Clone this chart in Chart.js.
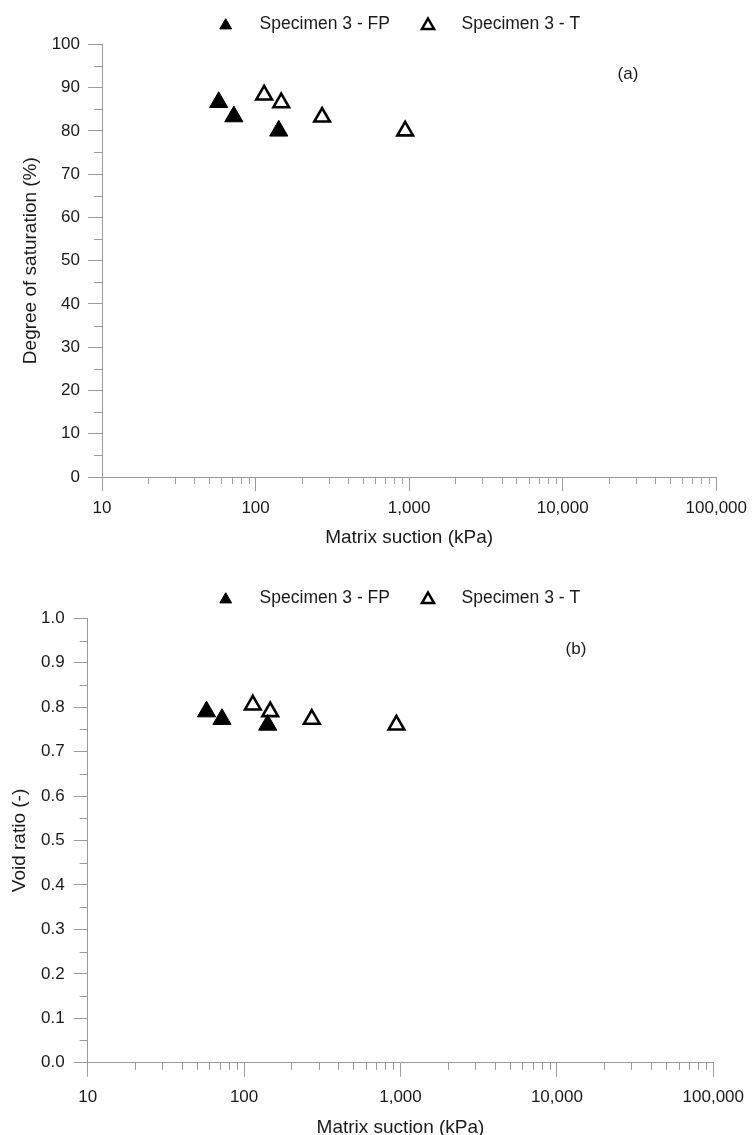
<!DOCTYPE html>
<html>
<head>
<meta charset="utf-8">
<title>Specimen 3 - saturation and void ratio vs matrix suction</title>
<script src="https://cdn.jsdelivr.net/npm/chart.js@4.4.1/dist/chart.umd.min.js"></script>
<style>
  html, body { margin: 0; padding: 0; background: #fff; overflow: hidden; }
  #wrap { position: relative; width: 754px; height: 1135px; }
  canvas { position: absolute; left: 0; }
  #chart-a { top: 0; }
  #chart-b { top: 565px; }
</style>
</head>
<body>
<div id="wrap">
  <canvas id="chart-a" width="754" height="565"></canvas>
  <canvas id="chart-b" width="754" height="572"></canvas>
</div>
<script>
// values
const suctionFP = [57.5, 72.2, 141.6];            // kPa
const saturationFP = [86.6, 83.3, 80.0];           // %
const voidRatioFP = [0.79, 0.773, 0.76];

const suctionT = [113.7, 146.9, 271, 942];
const saturationT = [88.3, 86.5, 83.2, 80.0];
const voidRatioT = [0.805, 0.79, 0.773, 0.76];

const seriesLabels = ['Specimen 3 - FP', 'Specimen 3 - T'];
const suctionDecades = [10, 100, 1000, 10000, 100000];
const panelTags = ['(a)', '(b)'];

const FONT = '"Liberation Sans", Arial, Helvetica, sans-serif';
const AXIS_GREY = '#9a9a9a';
const TEXT = '#1a1a1a';

Chart.defaults.font.family = FONT;
Chart.defaults.color = TEXT;

function toPoints(xs, ys) {
    return xs.map((x, i) => ({ x: x, y: ys[i] }));
}

function triangle(ctx, x, y, r) {
    ctx.beginPath();
    for (let k = 0; k < 3; k++) {
        const a = k * 2 * Math.PI / 3;
        const px = x + Math.sin(a) * r, py = y - Math.cos(a) * r;
        if (k === 0) ctx.moveTo(px, py); else ctx.lineTo(px, py);
    }
    ctx.closePath();
}

// short ticks for the unlabelled tick values
const minorTicks = {
    id: 'minorTicks',
    afterDraw(chart, args, opts) {
        const { ctx, scales: { x, y } } = chart;
        ctx.save();
        ctx.strokeStyle = AXIS_GREY;
        ctx.lineWidth = 1;
        ctx.beginPath();
        x.ticks.forEach(t => {
            if (t.label !== '') return;
            const px = Math.round(x.getPixelForValue(t.value)) + 0.5;
            ctx.moveTo(px, x.top);
            ctx.lineTo(px, x.top + opts.xLen);
        });
        y.ticks.forEach(t => {
            if (t.label !== '') return;
            const py = Math.round(y.getPixelForValue(t.value)) + 0.5;
            ctx.moveTo(y.right, py);
            ctx.lineTo(y.right - opts.yLen, py);
        });
        ctx.stroke();
        ctx.restore();
    }
};

// legend row above the plot and the panel tag
const topLegend = {
    id: 'topLegend',
    afterDraw(chart, args, opts) {
        const ctx = chart.ctx;
        ctx.save();
        ctx.font = '17.5px ' + FONT;
        ctx.textBaseline = 'middle';
        ctx.textAlign = 'left';
        chart.data.datasets.forEach((ds, i) => {
            const it = opts.items[i];
            triangle(ctx, it.markX, opts.y + 1.5, it.r);
            ctx.fillStyle = ds.backgroundColor;
            ctx.fill();
            ctx.lineWidth = it.lw;
            ctx.lineJoin = 'miter';
            ctx.strokeStyle = ds.borderColor;
            ctx.stroke();
            ctx.fillStyle = TEXT;
            ctx.fillText(ds.label, it.textX, opts.y);
        });
        ctx.font = '17px ' + FONT;
        ctx.textAlign = 'center';
        ctx.fillText(opts.tag.text, opts.tag.x, opts.tag.y);
        ctx.restore();
    }
};

function makePanel(id, yFP, yT, cfg) {
    const ctx = document.getElementById(id).getContext('2d');
    return new Chart(ctx, {
        type: 'scatter',
        data: {
            datasets: [{
                label: seriesLabels[0],
                data: toPoints(suctionFP, yFP),
                pointStyle: 'triangle',
                pointRadius: 10.5,
                backgroundColor: '#000',
                borderColor: '#000',
                borderWidth: 1
            }, {
                label: seriesLabels[1],
                data: toPoints(suctionT, yT),
                pointStyle: 'triangle',
                pointRadius: 9,
                backgroundColor: '#fff',
                borderColor: '#000',
                borderWidth: 2.6
            }]
        },
        options: {
            responsive: false,
            devicePixelRatio: 1,
            animation: false,
            events: [],
            layout: { padding: cfg.padding },
            plugins: {
                legend: { display: false },
                tooltip: { enabled: false },
                minorTicks: { xLen: 7, yLen: 8 },
                topLegend: {
                    y: cfg.legendY,
                    items: [
                        { markX: 225.7, textX: 259.6, r: 6.8, lw: 1 },
                        { markX: 428, textX: 461.5, r: 7, lw: 2.5 }
                    ],
                    tag: cfg.tag
                }
            },
            scales: {
                x: {
                    type: 'logarithmic',
                    min: suctionDecades[0],
                    max: suctionDecades[suctionDecades.length - 1],
                    afterBuildTicks: (scale) => {
                        const ticks = [];
                        suctionDecades.forEach((base, d) => {
                            ticks.push({ value: base });
                            if (d < suctionDecades.length - 1) {
                                for (let m = 2; m <= 9; m++) ticks.push({ value: base * m });
                            }
                        });
                        scale.ticks = ticks;
                    },
                    afterFit: (scale) => { scale.height = cfg.xHeight; },
                    border: { display: true, color: AXIS_GREY, width: 1 },
                    grid: {
                        drawOnChartArea: false,
                        tickLength: 14,
                        tickColor: (c) => (c.tick && suctionDecades.includes(c.tick.value)) ? AXIS_GREY : 'rgba(0,0,0,0)'
                    },
                    ticks: {
                        autoSkip: false,
                        maxRotation: 0,
                        padding: cfg.xTickPad,
                        font: { size: 17 },
                        color: TEXT,
                        callback: (v) => suctionDecades.includes(v) ? v.toLocaleString('en-US') : ''
                    },
                    title: {
                        display: true,
                        text: 'Matrix suction (kPa)',
                        font: { size: 19, lineHeight: cfg.xTitleLH },
                        padding: { top: 0, bottom: cfg.xTitlePad },
                        color: TEXT
                    }
                },
                y: {
                    min: cfg.yMin,
                    max: cfg.yMax,
                    afterFit: (scale) => { scale.width = cfg.yWidth; },
                    border: { display: true, color: AXIS_GREY, width: 1 },
                    grid: {
                        drawOnChartArea: false,
                        tickLength: 14,
                        tickColor: (c) => (c.tick && cfg.isMajorY(c.tick.value)) ? AXIS_GREY : 'rgba(0,0,0,0)'
                    },
                    ticks: {
                        autoSkip: false,
                        stepSize: cfg.yStep,
                        padding: cfg.yTickPad,
                        font: { size: 17 },
                        color: TEXT,
                        callback: (v) => cfg.isMajorY(v) ? cfg.fmtY(v) : ''
                    },
                    title: {
                        display: true,
                        text: cfg.yTitle,
                        font: { size: 19, lineHeight: 1 },
                        padding: { top: cfg.yTitlePad, bottom: 0 },
                        color: TEXT
                    }
                }
            }
        },
        plugins: [minorTicks, topLegend]
    });
}

function initFigure() {
    // (a) degree of saturation
    makePanel('chart-a', saturationFP, saturationT, {
        padding: { top: 44.3, right: 36, bottom: 0, left: 0 },
        yWidth: 102, xHeight: 88,
        xTickPad: 7, xTitlePad: 16, xTitleLH: 1.2,
        yTickPad: 8, yTitlePad: 21,
        yMin: 0, yMax: 100, yStep: 5,
        isMajorY: (v) => Math.round(v) % 10 === 0,
        fmtY: (v) => String(Math.round(v)),
        yTitle: 'Degree of saturation (%)',
        legendY: 24,
        tag: { text: panelTags[0], x: 628, y: 74 }
    });

    // (b) void ratio
    makePanel('chart-b', voidRatioFP, voidRatioT, {
        padding: { top: 53.3, right: 31.7, bottom: 0, left: 0 },
        yWidth: 87.7, xHeight: 74.3,
        xTickPad: 10, xTitlePad: 0, xTitleLH: 1,
        yTickPad: 9, yTitlePad: 10,
        yMin: 0, yMax: 1, yStep: 0.05,
        isMajorY: (v) => Math.round(v * 100) % 10 === 0,
        fmtY: (v) => v.toFixed(1),
        yTitle: 'Void ratio (-)',
        legendY: 33,
        tag: { text: panelTags[1], x: 576, y: 84 }
    });
}

document.addEventListener('DOMContentLoaded', initFigure);
</script>
</body>
</html>
